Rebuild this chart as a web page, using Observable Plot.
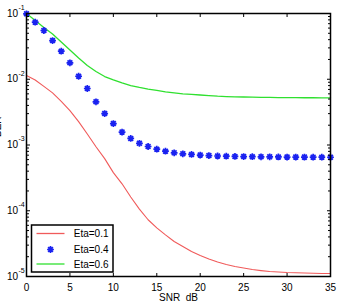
<!DOCTYPE html>
<html>
<head>
<meta charset="utf-8">
<script src="https://cdn.jsdelivr.net/npm/d3@7"></script>
<script src="https://cdn.jsdelivr.net/npm/@observablehq/plot@0.6"></script>
<style>
  body { margin: 0; background: #fff; }
  #chart { width: 341px; height: 308px; }
</style>
</head>
<body>
<div id="chart"></div>
<script>
// SNR grid (dB)
const snr = [0,1,2,3,4,5,6,7,8,9,10,11,12,13,14,15,16,17,18,19,20,21,22,23,24,25,26,27,28,29,30,31,32,33,34,35];

// BER per SNR point for each eta
const berEta01 = [0.0114,0.00975,0.00778,0.0062,0.00462,0.00333,0.00227,0.00147,0.00094,0.00062,
  0.00038,0.000257,0.000162,0.000106,0.000073,0.000055,0.000043,0.000034,0.0000286,0.000024,
  0.0000209,0.0000185,0.0000166,0.0000152,0.0000142,0.0000135,0.0000128,0.0000123,0.0000119,0.0000117,
  0.0000115,0.0000114,0.0000113,0.0000112,0.0000111,0.0000111];
const berEta04 = [0.099,0.0738,0.0551,0.0388,0.0267,0.0178,0.0111,0.00723,0.00454,0.00301,
  0.00212,0.00157,0.00126,0.00106,0.000948,0.000863,0.000805,0.00076,0.000735,0.000718,
  0.000703,0.00069,0.00068,0.000675,0.00067,0.000667,0.000664,0.000662,0.00066,0.000658,
  0.000656,0.000655,0.000654,0.000653,0.000652,0.000651];
const berEta06 = [0.1,0.0783,0.0612,0.0488,0.0369,0.0279,0.0211,0.0162,0.0131,0.011,
  0.00975,0.00878,0.00803,0.0075,0.00706,0.00675,0.00645,0.00622,0.00601,0.00588,
  0.00576,0.00563,0.00552,0.00546,0.0054,0.00537,0.00534,0.00531,0.00529,0.00527,
  0.00525,0.00524,0.00523,0.00523,0.00522,0.00522];

const seriesNames = ["Eta=0.1", "Eta=0.4", "Eta=0.6"];
const xTicks = [0,5,10,15,20,25,30,35];
const yDecades = [1e-5,1e-4,1e-3,1e-2,1e-1];
const yExponents = ["-5","-4","-3","-2","-1"];
const minorMult = [2,3,4,5,6,7,8,9];

const red = "#f05a5a", blue = "#1a22f0", green = "#2fe02f";

const eta01 = snr.map((s, i) => ({snr: s, ber: berEta01[i]}));
const eta04 = snr.map((s, i) => ({snr: s, ber: berEta04[i]}));
const eta06 = snr.map((s, i) => ({snr: s, ber: berEta06[i]}));
const yMinor = yDecades.slice(0, -1).flatMap(d => minorMult.map(m => d * m));
const yLabels = yDecades.map((v, i) => ({v, e: yExponents[i]}));

// eight-armed asterisk marker
const star8 = {
  draw(ctx, size) {
    const r = Math.sqrt(size / Math.PI);
    const d = r * Math.SQRT1_2;
    ctx.moveTo(-r, 0); ctx.lineTo(r, 0);
    ctx.moveTo(0, -r); ctx.lineTo(0, r);
    ctx.moveTo(-d, -d); ctx.lineTo(d, d);
    ctx.moveTo(-d, d); ctx.lineTo(d, -d);
  }
};

const chart = Plot.plot({
  width: 341,
  height: 308,
  marginLeft: 26,
  marginRight: 11,
  marginTop: 13,
  marginBottom: 32,
  style: {fontFamily: "'Liberation Sans', Arial, sans-serif", fontSize: "10px", background: "#fff", color: "#000"},
  x: {domain: [0, 35]},
  y: {type: "log", domain: [1e-5, 1e-1]},
  marks: [
    // curves
    Plot.line(eta01, {x: "snr", y: "ber", stroke: red, strokeWidth: 1.1}),
    Plot.line(eta06, {x: "snr", y: "ber", stroke: green, strokeWidth: 1.3}),
    Plot.dot(eta04, {x: "snr", y: "ber", symbol: star8, r: 3.4, stroke: blue, strokeWidth: 1.7}),
    // inward ticks on all four sides
    Plot.axisX(xTicks, {anchor: "bottom", tickSize: -3, tickFormat: () => "", label: null}),
    Plot.axisX(xTicks, {anchor: "top", tickSize: -3, tickFormat: () => "", label: null}),
    Plot.axisX(xTicks, {anchor: "bottom", tickSize: 0, tickPadding: 7, label: null}),
    Plot.axisY(yDecades, {anchor: "left", tickSize: -4, tickFormat: () => "", label: null}),
    Plot.axisY(yDecades, {anchor: "right", tickSize: -4, tickFormat: () => "", label: null}),
    Plot.axisY(yMinor, {anchor: "left", tickSize: -3, tickFormat: () => "", label: null}),
    Plot.axisY(yMinor, {anchor: "right", tickSize: -3, tickFormat: () => "", label: null}),
    // decade labels 10^n
    Plot.text(yLabels, {y: "v", text: () => "10", frameAnchor: "left", textAnchor: "end", dx: -8.5, fontSize: 10}),
    Plot.text(yLabels, {y: "v", text: "e", frameAnchor: "left", textAnchor: "start", dx: -8, dy: -6, fontSize: 7}),
    // axis titles
    Plot.text(["SNR  dB"], {frameAnchor: "bottom", dy: 24, fontSize: 10}),
    Plot.text(["BER"], {frameAnchor: "left", dx: -26, dy: -8, rotate: -90, lineAnchor: "bottom", fontSize: 10}),
    Plot.frame({stroke: "#000", strokeWidth: 1.5})
  ]
});

document.getElementById("chart").appendChild(chart);

// legend box in the lower-left corner of the plot area
const svg = d3.select(chart);
const lg = svg.append("g").attr("transform", "translate(31.5,225)");
lg.append("rect").attr("width", 81.5).attr("height", 47)
  .attr("fill", "#fff").attr("stroke", "#000").attr("stroke-width", 1.5);
const rowsY = [8.5, 24.5, 39];
const colors = [red, blue, green];
seriesNames.forEach((name, i) => {
  const y = rowsY[i];
  if (i === 1) {
    lg.append("path").attr("d", d3.symbol(star8, Math.PI * 11.5)())
      .attr("transform", `translate(19,${y})`)
      .attr("fill", "none").attr("stroke", colors[i]).attr("stroke-width", 1.7);
  } else {
    lg.append("line").attr("x1", 5).attr("x2", 33).attr("y1", y).attr("y2", y)
      .attr("stroke", colors[i]).attr("stroke-width", 1.3);
  }
  lg.append("text").attr("x", 77).attr("y", y).attr("dy", "0.35em")
    .attr("text-anchor", "end").attr("font-size", 10).attr("fill", "#000").text(name);
});
</script>
</body>
</html>
